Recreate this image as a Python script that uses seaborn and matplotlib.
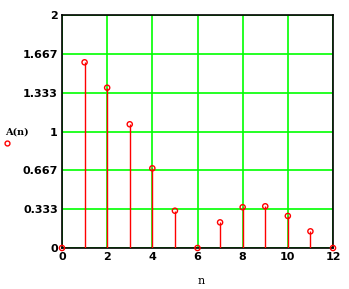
import matplotlib
matplotlib.use("Agg")
import matplotlib.pyplot as plt
import seaborn as sns
import pandas as pd

n_vals = [0, 1, 2, 3, 4, 5, 6, 7, 8, 9, 10, 11, 12]
a_vals = [0.0, 1.594, 1.376, 1.062, 0.684, 0.32, 0.0, 0.22, 0.35, 0.358, 0.275, 0.143, 0.0]
y_ticks = [0, 0.333, 0.667, 1, 1.333, 1.667, 2]
y_tick_labels = ["0", "0.333", "0.667", "1", "1.333", "1.667", "2"]
x_ticks = [0, 2, 4, 6, 8, 10, 12]

df = pd.DataFrame({"n": n_vals, "A": a_vals})

sns.set_style("white")
fig = plt.figure(figsize=(3.49, 2.89), dpi=100)
ax = fig.add_axes([62/349, 1-248/289, (333-62)/349, (248-15)/289])

ax.set_xlim(0, 12)
ax.set_ylim(0, 2)
ax.set_xticks(x_ticks)
ax.set_yticks(y_ticks)
ax.set_yticklabels(y_tick_labels)
ax.grid(True, color="#00ff00", linewidth=1.2)
ax.set_axisbelow(True)

ax.vlines(df["n"], 0, df["A"], color="#ff0000", linewidth=1.0, zorder=3)
sns.scatterplot(data=df, x="n", y="A", ax=ax, marker="o", s=14,
                facecolor="none", edgecolor="#ff0000", linewidth=1.0, zorder=4, clip_on=False)

for s in ax.spines.values():
    s.set_color("black")
    s.set_linewidth(1.2)
ax.tick_params(axis="both", length=0, labelsize=8, pad=3, labelcolor="black")
for lab in ax.get_xticklabels() + ax.get_yticklabels():
    lab.set_fontweight("bold")
ax.set_xlabel("")
ax.set_ylabel("")

fig.text(201/349, 1-281/289, "n", ha="center", va="center", fontsize=8, family="DejaVu Serif", color="black")
fig.text(5/349, 1-132/289, "A(n)", ha="left", va="center", fontsize=7, family="DejaVu Serif",
         fontweight="bold", color="black")
fig.lines.append(plt.Line2D([7/349], [1-143/289], marker="o", markersize=3.5, markerfacecolor="none",
                            markeredgecolor="#ff0000", color="#ff0000", linewidth=0, transform=fig.transFigure))

fig.savefig("out.png", dpi=100)
